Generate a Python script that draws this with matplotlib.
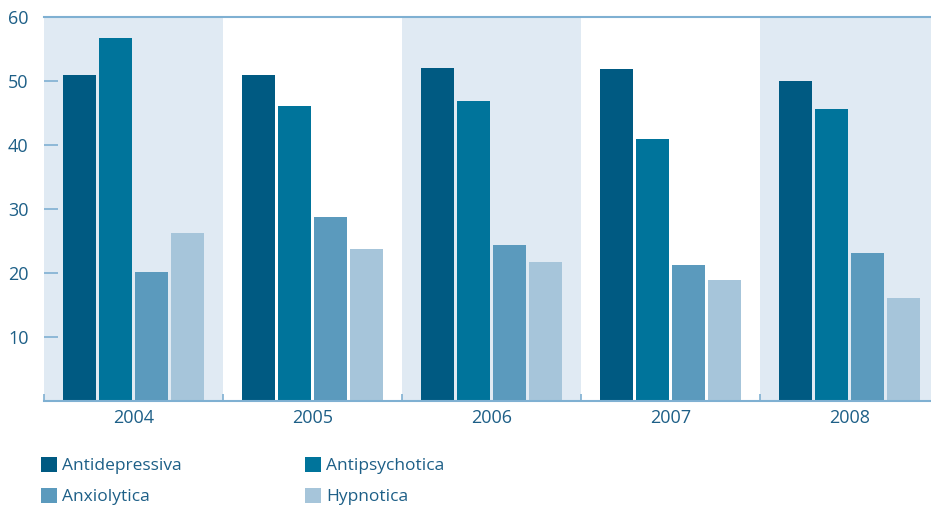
import numpy as np
import matplotlib
matplotlib.use("Agg")
import matplotlib.pyplot as plt
from matplotlib.patches import Patch

plt.rcParams['font.family'] = ['Open Sans', 'DejaVu Sans']

years = ['2004', '2005', '2006', '2007', '2008']
series = ['Antidepressiva', 'Antipsychotica', 'Anxiolytica', 'Hypnotica']
antidepressiva = [51.0, 51.0, 52.0, 51.9, 50.0]
antipsychotica = [56.7, 46.1, 46.9, 40.9, 45.6]
anxiolytica = [20.1, 28.7, 24.4, 21.2, 23.1]
hypnotica = [26.2, 23.7, 21.7, 18.9, 16.1]
values = [antidepressiva, antipsychotica, anxiolytica, hypnotica]
yticks = [10, 20, 30, 40, 50, 60]

colors = ['#005a82', '#00749b', '#5b9abd', '#a6c5da']
band = '#e0eaf3'
line_c = '#7fb0d2'
text_c = '#1d5f87'

W, H = 931, 505
fig = plt.figure(figsize=(W / 100, H / 100), dpi=100)
ax = fig.add_axes([44 / W, (H - 401) / H, 887 / W, 384 / H])

x = np.arange(len(years))
step = 36 / 179
width = 33 / 179
for i, (name, vals) in enumerate(zip(series, values)):
    ax.bar(x + (i - 1.5) * step, vals, width=width, color=colors[i], label=name, zorder=2)

# alternating background bands
for k in range(0, len(years), 2):
    ax.axvspan(k - 0.5, k + 0.5, color=band, lw=0, zorder=0)

ax.set_xlim(-0.5, len(years) - 0.5 - 8 / 179)
ax.set_ylim(0, 60)

for s in ['left', 'right']:
    ax.spines[s].set_visible(False)
for s in ['top', 'bottom']:
    ax.spines[s].set_color(line_c)
    ax.spines[s].set_linewidth(1.5)

ax.set_yticks(yticks)
ax.set_yticklabels([str(t) for t in yticks])
ax.tick_params(axis='y', direction='in', length=10, width=1.2, color=line_c,
               labelsize=13, labelcolor=text_c, pad=11)
ax.set_xticks(x)
ax.set_xticklabels(years)
ax.set_xticks(np.arange(len(years)) - 0.5, minor=True)
ax.tick_params(axis='x', which='major', length=0, labelsize=13, labelcolor=text_c, pad=6)
ax.tick_params(axis='x', which='minor', direction='in', length=5, width=1.2, color=line_c)

# legend in two columns
handles = [Patch(facecolor=c, edgecolor='none') for c in colors]
for col, idx in enumerate([(0, 2), (1, 3)]):
    lx = [41, 305][col]
    fig.legend([handles[j] for j in idx], [series[j] for j in idx],
               loc='upper left', bbox_to_anchor=(lx / W, 1 - 457 / H),
               frameon=False, fontsize=12.5, labelcolor=text_c,
               handlelength=0.92, handleheight=0.92, handletextpad=0.3,
               labelspacing=0.8, borderpad=0, borderaxespad=0)

fig.savefig('out.png', dpi=100)
